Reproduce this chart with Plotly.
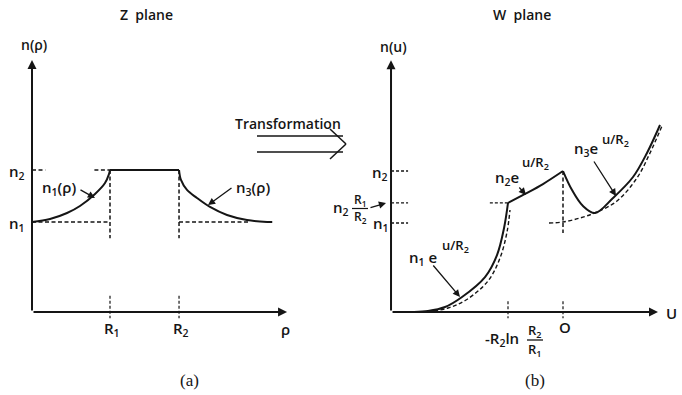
import plotly.graph_objects as go

W, H = 682, 395
INK = '#151515'
FONT = 'Open Sans'

# ---- panel (a): Z plane (rho in units of R1, n in units of n1)
R1, R2 = 1.0, 1.885
N1, N2 = 1.0, 1.578
RHO_AXIS_END = 3.27
N_AXIS_TOP_A = 2.8
RHO_N1_DASH_END = 2.79
N_DROP_A = 0.82

rho_inner = [0.0, 0.231, 0.449, 0.615, 0.808, 0.936, 0.987, 1.0]
n_inner = [1.0, 1.033, 1.1, 1.178, 1.311, 1.433, 1.533, 1.578]
rho_core = [R1, R2]
n_core = [N2, N2]
rho_outer = [1.885, 1.91, 1.987, 2.115, 2.282, 2.5, 2.756, 3.013]
n_outer = [1.578, 1.467, 1.356, 1.267, 1.167, 1.078, 1.022, 1.0]

# ---- panel (b): W plane (u = R2 ln(rho/R2))
U0 = -3.127          # left end of the u axis
U1 = -1.0            # -R2 ln(R2/R1)
U_AXIS_END = 1.727
M1, M12, M2 = 1.0, 1.225, 1.584   # n1, n2*R1/R2, n2
N_AXIS_TOP_B = 2.83
N_DROP_B = 0.888

u_left = [-2.9, -2.745, -2.455, -2.145, -1.836, -1.418, -1.2, -1.07, -1.0]
n_left = [0.0, 0.0, 0.011, 0.056, 0.169, 0.393, 0.64, 0.95, 1.225]
u_left_ref = [-2.7, -2.509, -2.091, -1.764, -1.364, -1.145, -1.018, -0.964]
n_left_ref = [0.0, 0.0, 0.045, 0.135, 0.348, 0.607, 0.899, 1.146]
u_mid = [-1.0, -0.691, -0.364, 0.0]
n_mid = [1.225, 1.326, 1.438, 1.584]
u_right = [0.0, 0.164, 0.364, 0.582, 0.909, 1.273, 1.527, 1.764]
n_right = [1.584, 1.371, 1.191, 1.112, 1.281, 1.517, 1.787, 2.101]
u_right_ref = [-0.255, 0.0, 0.309, 0.618, 0.982, 1.345, 1.582, 1.8]
n_right_ref = [1.0, 1.011, 1.056, 1.124, 1.247, 1.506, 1.787, 2.09]

fig = go.Figure()


def line(x, y, ax=1, width=2.0, dash=None, spline=False):
    xa = 'x' if ax == 1 else 'x2'
    ya = 'y' if ax == 1 else 'y2'
    fig.add_trace(go.Scatter(
        x=x, y=y, xaxis=xa, yaxis=ya, mode='lines', hoverinfo='skip',
        line=dict(color=INK, width=width, dash=dash,
                  shape='spline' if spline else 'linear', smoothing=1.0),
        showlegend=False))


DASH = '4px,2.5px'

# panel (a) curves
line(rho_inner, n_inner, spline=True)
line(rho_core, n_core)
line(rho_outer, n_outer, spline=True)
line([rho_outer[-1], 3.08], [N1, N1])
# panel (a) guides
line([0, R1], [N1, N1], width=1.4, dash=DASH)
line([R2, RHO_N1_DASH_END], [N1, N1], width=1.4, dash=DASH)
line([0, 0.17], [N2, N2], width=1.4, dash=DASH)
line([0.8, R1], [N2, N2], width=1.4, dash=DASH)
line([R1, R1], [N2, N_DROP_A], width=1.5, dash=DASH)
line([R2, R2], [N2, N_DROP_A], width=1.5, dash=DASH)
line([R1, R1], [0.18, -0.07], width=1.2, dash='3px,2px')
line([R2, R2], [0.18, -0.07], width=1.2, dash='3px,2px')

# panel (b) curves
line(u_left, n_left, ax=2, spline=True)
line(u_left_ref, n_left_ref, ax=2, width=1.4, dash=DASH, spline=True)
line(u_mid, n_mid, ax=2, spline=True)
line(u_right, n_right, ax=2, spline=True)
line(u_right_ref, n_right_ref, ax=2, width=1.4, dash=DASH, spline=True)
# panel (b) guides
for lvl in (M1, M12, M2):
    line([U0, U0 + 0.31], [lvl, lvl], ax=2, width=1.3, dash='3px,2px')
line([-1.33, U1], [M12, M12], ax=2, width=1.3, dash='3px,2px')
line([0, 0], [M2, N_DROP_B], ax=2, width=1.5, dash=DASH)
line([U1, U1], [0.12, -0.07], ax=2, width=1.2, dash='3px,2px')
line([0, 0], [0.12, -0.07], ax=2, width=1.2, dash='3px,2px')

annotations = []


def axis_arrow(xref, yref, x, y, x0, y0):
    annotations.append(dict(
        x=x, y=y, ax=x0, ay=y0, xref=xref, yref=yref, axref=xref, ayref=yref,
        text='', showarrow=True, arrowhead=2, arrowsize=0.9, arrowwidth=2,
        arrowcolor=INK))


axis_arrow('x', 'y', 0, N_AXIS_TOP_A, 0, 0)
axis_arrow('x', 'y', RHO_AXIS_END, 0, 0, 0)
axis_arrow('x2', 'y2', U0, N_AXIS_TOP_B, U0, 0)
axis_arrow('x2', 'y2', U_AXIS_END, 0, U0, 0)


def txt(px, py, s, size=14, family=FONT, anchor='center', weight=600):
    annotations.append(dict(
        x=px / W, y=1 - py / H, xref='paper', yref='paper', text=s,
        showarrow=False, xanchor=anchor, yanchor='middle',
        font=dict(family=family, size=size, color=INK, weight=weight)))


def pointer(tip, tail):
    annotations.append(dict(
        x=tip[0] / W, y=1 - tip[1] / H, xref='paper', yref='paper',
        ax=tail[0] - tip[0], ay=tail[1] - tip[1], text='', showarrow=True,
        arrowhead=2, arrowsize=1.1, arrowwidth=1.3, arrowcolor=INK))


# panel (a) text
txt(146, 15, 'Z  plane')
txt(34, 45, 'n(ρ)')
txt(17, 172, 'n<sub>2</sub>', 15)
txt(17, 224, 'n<sub>1</sub>', 15)
txt(59, 188, 'n<sub>1</sub>(ρ)', 15)
pointer((95, 198), (79, 189))
txt(253, 188, 'n<sub>3</sub>(ρ)', 15)
pointer((208, 205), (233, 187))
txt(112, 329, 'R<sub>1</sub>', 15)
txt(181, 329, 'R<sub>2</sub>', 15)
txt(285, 329, 'ρ', 15)
txt(190, 380, '(a)', 17, 'Liberation Serif', weight=400)
txt(288, 123, 'Transformation', 14)

# panel (b) text
txt(522, 15, 'W  plane')
txt(393, 47, 'n(u)')
txt(380, 173, 'n<sub>2</sub>', 15)
txt(381, 224, 'n<sub>1</sub>', 15)
txt(341, 208, 'n<sub>2</sub>', 15)
txt(360, 200, 'R<sub>1</sub>', 12)
txt(360, 217, 'R<sub>2</sub>', 12)
pointer((386, 203), (369, 208))
txt(423, 258, 'n<sub>1</sub> e', 15)
txt(455, 246, 'u/R<sub>2</sub>', 13)
pointer((460, 297), (432, 264))
txt(507, 178, 'n<sub>2</sub>e', 15)
txt(535, 163, 'u/R<sub>2</sub>', 13)
pointer((526, 195), (518, 186))
txt(586, 149, 'n<sub>3</sub>e', 15)
txt(615, 140, 'u/R<sub>2</sub>', 13)
pointer((616, 196), (593, 160))
txt(502, 339, '-R<sub>2</sub>ln', 15)
txt(535, 331, 'R<sub>2</sub>', 13)
txt(535, 350, 'R<sub>1</sub>', 13)
txt(565, 327, 'O', 15)
txt(671, 313, 'U', 15)
txt(535, 380, '(b)', 17, 'Liberation Serif', weight=400)


def pline(x0, y0, x1, y1, w=1.5):
    return dict(type='line', xref='paper', yref='paper', x0=x0 / W, y0=1 - y0 / H,
                x1=x1 / W, y1=1 - y1 / H, line=dict(color=INK, width=w))


shapes = [
    pline(257, 136, 343, 136),
    pline(257, 152, 343, 152),
    pline(330, 129, 346, 144),
    pline(346, 144, 330, 159),
    pline(527, 340, 543, 340, 1.3),
    pline(352, 208.5, 368, 208.5, 1.2),
]

fig.update_layout(
    width=W, height=H, autosize=False,
    margin=dict(l=0, r=0, t=0, b=0, pad=0),
    paper_bgcolor='white', plot_bgcolor='white',
    xaxis=dict(domain=[0, 0.5], range=[-0.4103, 3.9615], visible=False),
    yaxis=dict(domain=[0, 1], range=[-0.9222, 3.4667], visible=False),
    xaxis2=dict(domain=[0.5, 1], range=[-4.0364, 2.1636], visible=False, anchor='y2'),
    yaxis2=dict(domain=[0, 1], range=[-0.9326, 3.5056], visible=False, anchor='x2'),
    annotations=annotations,
    shapes=shapes,
    showlegend=False,
)

fig.write_html("out.html", config=dict(displayModeBar=False),
               post_script="document.body.style.margin='0';")
